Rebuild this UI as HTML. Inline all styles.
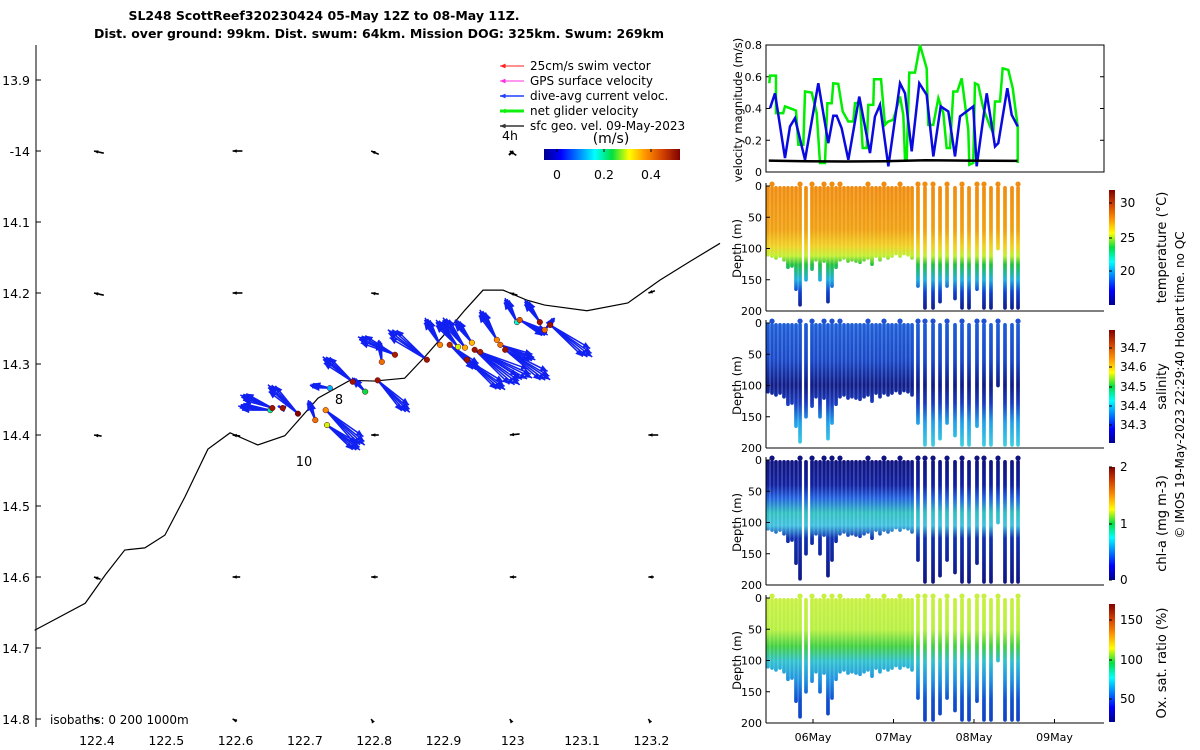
<!DOCTYPE html>
<html><head><meta charset="utf-8"><style>
body{margin:0;background:#fff;}
svg{display:block;font-family:"DejaVu Sans","Liberation Sans",sans-serif;}
</style></head><body>
<svg id="s" width="1200" height="750" viewBox="0 0 1200 750" xmlns="http://www.w3.org/2000/svg">
<defs>
<linearGradient id="jet" x1="0" y1="0" x2="1" y2="0">
<stop offset="0" stop-color="#00008f"/><stop offset="0.125" stop-color="#0000ff"/><stop offset="0.375" stop-color="#00ffff"/><stop offset="0.5" stop-color="#00e040"/><stop offset="0.625" stop-color="#ffff00"/><stop offset="0.75" stop-color="#ff9000"/><stop offset="0.875" stop-color="#d04000"/><stop offset="1" stop-color="#800000"/></linearGradient>
<linearGradient id="jetv" x1="0" y1="1" x2="0" y2="0">
<stop offset="0" stop-color="#00008f"/><stop offset="0.125" stop-color="#0000ff"/><stop offset="0.375" stop-color="#00ffff"/><stop offset="0.5" stop-color="#00e040"/><stop offset="0.625" stop-color="#ffff00"/><stop offset="0.75" stop-color="#ff9000"/><stop offset="0.875" stop-color="#d04000"/><stop offset="1" stop-color="#800000"/></linearGradient>
<linearGradient id="gT" gradientUnits="userSpaceOnUse" x1="0" y1="186" x2="0" y2="311">
<stop offset="0" stop-color="#f08c10"/><stop offset="0.35" stop-color="#f0a010"/><stop offset="0.48" stop-color="#f0d020"/><stop offset="0.56" stop-color="#c0f030"/><stop offset="0.63" stop-color="#20c040"/><stop offset="0.75" stop-color="#20b0e0"/><stop offset="0.85" stop-color="#1040d0"/><stop offset="1" stop-color="#101880"/></linearGradient>
<linearGradient id="gS" gradientUnits="userSpaceOnUse" x1="0" y1="323" x2="0" y2="447">
<stop offset="0" stop-color="#1e5fd8"/><stop offset="0.3" stop-color="#1848c8"/><stop offset="0.5" stop-color="#101c88"/><stop offset="0.65" stop-color="#1a3cc0"/><stop offset="0.8" stop-color="#20a0e8"/><stop offset="1" stop-color="#40d0e0"/></linearGradient>
<linearGradient id="gC" gradientUnits="userSpaceOnUse" x1="0" y1="460" x2="0" y2="586">
<stop offset="0" stop-color="#101480"/><stop offset="0.2" stop-color="#1020a0"/><stop offset="0.3" stop-color="#2060e0"/><stop offset="0.42" stop-color="#30c0c0"/><stop offset="0.52" stop-color="#40c0e0"/><stop offset="0.62" stop-color="#1030b0"/><stop offset="1" stop-color="#101480"/></linearGradient>
<linearGradient id="gO" gradientUnits="userSpaceOnUse" x1="0" y1="598" x2="0" y2="725">
<stop offset="0" stop-color="#c8f040"/><stop offset="0.25" stop-color="#b8f040"/><stop offset="0.38" stop-color="#40d040"/><stop offset="0.5" stop-color="#30c0d0"/><stop offset="0.65" stop-color="#2090e0"/><stop offset="0.8" stop-color="#1050d0"/><stop offset="1" stop-color="#1040c0"/></linearGradient>
</defs>
<g id="root"></g>
</svg>
<script>
// ---------- data ----------
const coastLon=[122.310,122.383,122.412,122.440,122.469,122.498,122.527,122.560,122.592,122.632,122.671,122.719,122.765,122.801,122.844,122.873,122.899,122.931,122.957,122.986,123.020,123.046,123.107,123.166,123.212,123.255,123.299];
const coastLat=[14.675,14.637,14.597,14.562,14.559,14.541,14.487,14.420,14.397,14.414,14.401,14.348,14.323,14.324,14.320,14.290,14.261,14.224,14.196,14.196,14.210,14.217,14.225,14.214,14.182,14.156,14.130];
const diveLon=[122.650,122.653,122.690,122.715,122.730,122.732,122.736,122.769,122.787,122.805,122.811,122.830,122.876,122.921,122.931,122.934,122.941,122.945,122.953,122.977,122.982,122.989,123.006,123.010,123.039,123.054,123.046,122.668,122.895,122.909];
const diveLat=[14.365,14.362,14.370,14.379,14.365,14.386,14.334,14.325,14.339,14.323,14.297,14.287,14.294,14.276,14.277,14.294,14.270,14.280,14.283,14.266,14.273,14.280,14.241,14.238,14.241,14.245,14.252,14.362,14.273,14.273];
const curU=[-0.32,-0.32,-0.30,-0.07,0.39,0.33,-0.20,-0.30,-0.13,0.32,-0.03,-0.37,-0.39,-0.22,-0.22,0.38,-0.17,0.45,0.52,-0.17,0.35,0.45,-0.12,0.28,-0.15,0.42,0.10,-0.05,-0.15,0.30];
const curV=[0.04,0.13,0.29,0.20,-0.35,-0.25,0.03,0.25,0.14,-0.32,0.22,0.18,0.30,0.27,0.30,-0.30,0.23,-0.35,-0.26,0.30,-0.15,-0.30,0.24,-0.15,0.22,-0.32,0.12,0.02,0.27,-0.25];
const surfSpeed=[0.22,0.48,0.50,0.40,0.38,0.30,0.15,0.48,0.25,0.48,0.40,0.47,0.48,0.30,0.36,0.48,0.35,0.48,0.47,0.38,0.40,0.48,0.20,0.42,0.48,0.48,0.40,0.48,0.38,0.46];
const geoLon=[122.4,122.6,122.8,123.0,123.2];
const geoLat=[14.0,14.2,14.4,14.6,14.8];
const geoU=[[0.08,0.08,0.06,0.05,0.05],[0.08,0.08,0.06,0.06,0.05],[0.06,0.06,0.06,0.08,0.08],[0.05,0.06,0.05,0.05,0.04],[0.03,0.03,0.01,0.01,0.01]];
const geoV=[[-0.02,0,-0.03,-0.04,0],[-0.02,0,-0.01,-0.02,0.02],[-0.01,-0.01,0,0.01,0],[-0.02,0,0,0,0],[-0.02,-0.02,-0.03,-0.03,-0.03]];
const lonTicks=[122.4,122.5,122.6,122.7,122.8,122.9,123,123.1,123.2];
const lonLabels=["122.4","122.5","122.6","122.7","122.8","122.9","123","123.1","123.2"];
const latTicks=[13.9,14.0,14.1,14.2,14.3,14.4,14.5,14.6,14.7,14.8];
const latLabels=["13.9","-14","14.1","14.2","14.3","14.4","14.5","14.6","14.7","14.8"];

const blueT=[5.466,5.528,5.652,5.714,5.776,5.901,6.066,6.19,6.252,6.294,6.356,6.439,6.575,6.708,6.77,6.832,6.936,7.081,7.143,7.226,7.32,7.412,7.495,7.586,7.681,7.764,7.826,7.991,8.033,8.158,8.261,8.302,8.414,8.468,8.543];
const blueV=[0.402,0.496,0.088,0.287,0.339,0.077,0.559,0.182,0.354,0.354,0.276,0.077,0.475,0.119,0.35,0.423,0.036,0.559,0.496,0.13,0.559,0.486,0.098,0.413,0.381,0.098,0.35,0.413,0.036,0.496,0.161,0.182,0.528,0.36,0.287];
const greenT=[5.457,5.466,5.54,5.54,5.63,5.652,5.714,5.789,5.818,5.88,5.901,5.984,6.046,6.087,6.149,6.178,6.232,6.252,6.314,6.369,6.439,6.501,6.522,6.584,6.617,6.667,6.687,6.749,6.758,6.845,6.894,6.935,6.997,7.081,7.122,7.143,7.164,7.196,7.267,7.329,7.412,7.432,7.494,7.557,7.619,7.66,7.702,7.743,7.793,7.847,7.929,7.942,7.991,8.012,8.053,8.115,8.199,8.239,8.261,8.323,8.356,8.426,8.481,8.543,8.543];
const greenV=[0.559,0.607,0.607,0.371,0.371,0.413,0.402,0.387,0.172,0.172,0.507,0.5,0.371,0.057,0.057,0.433,0.433,0.559,0.555,0.381,0.318,0.318,0.433,0.438,0.151,0.151,0.423,0.423,0.584,0.584,0.297,0.318,0.329,0.475,0.36,0.077,0.077,0.626,0.626,0.8,0.653,0.297,0.297,0.465,0.371,0.151,0.151,0.507,0.507,0.59,0.266,0.046,0.057,0.559,0.549,0.402,0.287,0.245,0.444,0.444,0.653,0.643,0.528,0.287,0.057];
const blackT=[5.45,5.9,6.4,6.9,7.4,7.9,8.54];
const blackV=[0.072,0.068,0.066,0.068,0.074,0.072,0.07];

const profT=[5.441,5.491,5.540,5.590,5.640,5.689,5.739,5.789,5.839,5.913,5.988,6.037,6.087,6.137,6.186,6.236,6.286,6.335,6.385,6.435,6.484,6.534,6.584,6.634,6.683,6.733,6.783,6.832,6.882,6.932,6.981,7.031,7.081,7.130,7.180,7.230,7.304,7.391,7.491,7.578,7.665,7.764,7.851,7.938,8.037,8.124,8.211,8.298,8.385,8.472,8.547];
const profD=[110,112,115,112,118,130,128,165,190,150,133,118,150,120,185,160,130,118,115,120,118,120,122,118,115,125,112,118,112,115,112,108,112,108,110,115,160,195,195,185,160,180,195,195,165,195,195,100,195,195,195];
const surfDot=[0,1,0,0,0,0,0,0,1,0,1,0,0,1,0,1,0,1,0,0,0,0,0,0,1,0,0,0,1,0,0,0,1,0,0,0,1,1,1,0,1,0,1,0,1,1,0,1,0,0,1];
const dayTicks=[6,7,8,9];
const dayLabels=["06May","07May","08May","09May"];

// ---------- helpers ----------
const NS="http://www.w3.org/2000/svg";
const root=document.getElementById('root');
function el(tag,attrs,parent,text){const e=document.createElementNS(NS,tag);for(const k in attrs)e.setAttribute(k,attrs[k]);if(text!==undefined)e.textContent=text;(parent||root).appendChild(e);return e;}
function grp(name){const g=document.createElementNS(NS,'g');


root.appendChild(g);return g;}
const xLon=lon=>97+(lon-122.4)*693;
const yLat=lat=>80+(lat-13.9)*710;
const xT=t=>813+(t-6)*80.5;
function jet(v){const st=[[0,0,0,143],[.125,0,0,255],[.375,0,255,255],[.5,0,224,64],[.625,255,255,0],[.75,255,144,0],[.875,208,64,0],[1,128,0,0]];v=Math.max(0,Math.min(1,v));for(let i=1;i<st.length;i++){if(v<=st[i][0]){const a=st[i-1],b=st[i],f=(v-a[0])/(b[0]-a[0]);return `rgb(${Math.round(a[1]+f*(b[1]-a[1]))},${Math.round(a[2]+f*(b[2]-a[2]))},${Math.round(a[3]+f*(b[3]-a[3]))})`;}}return 'rgb(128,0,0)';}
function arrow(g,x1,y1,x2,y2,col,w,head){el('line',{x1,y1,x2,y2,stroke:col,'stroke-width':w},g);const a=Math.atan2(y2-y1,x2-x1);const h=head;
el('polygon',{points:`${x2},${y2} ${x2-h*Math.cos(a-0.4)},${y2-h*Math.sin(a-0.4)} ${x2-h*Math.cos(a+0.4)},${y2-h*Math.sin(a+0.4)}`,fill:col},g);}

// ---------- title ----------
const tg=grp('title');
el('text',{x:324,y:20,'text-anchor':'middle','font-size':12.5,'font-weight':'bold'},tg,'SL248 ScottReef320230424 05-May 12Z to 08-May 11Z.');
el('text',{x:379,y:38,'text-anchor':'middle','font-size':12.5,'font-weight':'bold'},tg,'Dist. over ground: 99km. Dist. swum: 64km. Mission DOG: 325km. Swum: 269km');

// ---------- map ----------
const mg=grp('map-axes');
el('line',{x1:36,y1:45,x2:36,y2:727,stroke:'#000','stroke-width':1},mg);
latTicks.forEach((v,i)=>{const y=yLat(v);el('line',{x1:36,y1:y,x2:41,y2:y,stroke:'#000'},mg);el('text',{x:30,y:y+5,'text-anchor':'end','font-size':12.5},mg,latLabels[i]);});
lonTicks.forEach((v,i)=>{const x=xLon(v);el('text',{x:x,y:745,'text-anchor':'middle','font-size':12.5},mg,lonLabels[i]);});
const cg=grp('isobath-line');
el('polyline',{points:coastLon.map((v,i)=>xLon(v)+','+yLat(coastLat[i])).join(' '),fill:'none',stroke:'#000','stroke-width':1.2},cg);
const gg=grp('surface-geostrophic-arrows');
geoLat.forEach((la,i)=>geoLon.forEach((lo,j)=>{const x=xLon(lo)-3,y=yLat(la);arrow(gg,x+geoU[i][j]*110+1,y-geoV[i][j]*110,x,y,'#000',1.6,4.5);}));
const ag=grp('dive-current-arrows');
const fan=[-0.12,-0.05,0,0.06,0.12];
const fanS=[0.88,0.95,1.0,0.93,0.86];
diveLon.forEach((lo,i)=>{const x=xLon(lo),y=yLat(diveLat[i]);
 fan.forEach((da,k)=>{const u=curU[i],v=-curV[i];const c=Math.cos(da),s=Math.sin(da);const ux=(u*c-v*s)*100*fanS[k],vy=(u*s+v*c)*100*fanS[k];
  arrow(ag,x,y,x+ux,y+vy,'#1020f0',1.5,8);});});
const dg=grp('surface-velocity-dots');
diveLon.forEach((lo,i)=>{el('circle',{cx:xLon(lo),cy:yLat(diveLat[i]),r:2.8,fill:jet(surfSpeed[i]/0.5),stroke:'#600','stroke-width':0.5},dg);});
el('text',{x:339,y:404,'text-anchor':'middle','font-size':13},mg,'8');
el('text',{x:304,y:466,'text-anchor':'middle','font-size':13},mg,'10');
el('text',{x:50,y:724,'font-size':12},mg,'isobaths: 0   200  1000m');
// legend
const lg=grp('map-legend');
const legT=["25cm/s swim vector","GPS surface velocity","dive-avg current veloc.","net glider velocity","sfc geo. vel. 09-May-2023"];
const legC=["#ff2020","#ff30e0","#2040ff","#10f010","#333"];
const legW=[1,1,1.5,3,1.5];
legT.forEach((t,i)=>{const y=66+i*15;arrow(lg,524,y,500,y,legC[i],legW[i],6);el('text',{x:530,y:y+4,'font-size':12},lg,t);});
el('text',{x:510,y:140,'text-anchor':'middle','font-size':12.5},lg,'4h');
el('line',{x1:513,y1:151,x2:509,y2:155,stroke:'#000','stroke-width':2},lg);
el('text',{x:611,y:143,'text-anchor':'middle','font-size':14},lg,'(m/s)');
el('rect',{x:544,y:149,width:136,height:11,fill:'url(#jet)'},lg);
[0,0.2,0.4].forEach(v=>{const x=557+v*235;el('line',{x1:x,y1:149,x2:x,y2:152,stroke:'#000'},lg);el('text',{x:x,y:179,'text-anchor':'middle','font-size':12.5},lg,String(v));});

// ---------- velocity panel ----------
const vg=grp('velocity-panel');
const yV=v=>172-v/0.8*127;
el('rect',{x:766,y:45,width:338,height:127,fill:'none',stroke:'#000'},vg);
[0,0.2,0.4,0.6,0.8].forEach(v=>{const y=yV(v);el('line',{x1:766,y1:y,x2:770,y2:y,stroke:'#000'},vg);el('line',{x1:1100,y1:y,x2:1104,y2:y,stroke:'#000'},vg);el('text',{x:762,y:y+4,'text-anchor':'end','font-size':11},vg,String(v));});
el('text',{x:0,y:0,transform:'translate(742,110) rotate(-90)','text-anchor':'middle','font-size':11.5},vg,'velocity magnitude (m/s)');
el('polyline',{points:greenT.map((t,i)=>xT(t)+','+yV(greenV[i])).join(' '),fill:'none',stroke:'#00ee00','stroke-width':2.5},vg);
el('polyline',{points:blueT.map((t,i)=>xT(t)+','+yV(blueV[i])).join(' '),fill:'none',stroke:'#0a0ae0','stroke-width':2.5},vg);
el('polyline',{points:blackT.map((t,i)=>xT(t)+','+yV(blackV[i])).join(' '),fill:'none',stroke:'#000','stroke-width':2.5},vg);

// ---------- profile panels ----------
const panels=[
 {name:'temperature',top:186,grad:'gT',cb:[190,305],label:'temperature (°C)',ticks:[[30,203],[25,238],[20,271]],dot:'#f08c10'},
 {name:'salinity',top:323,grad:'gS',cb:[330,443],label:'salinity',ticks:[[34.7,348],[34.6,367],[34.5,387],[34.4,406],[34.3,425]],dot:'#1e50d0'},
 {name:'chl-a',top:460,grad:'gC',cb:[467,580],label:'chl-a (mg m-3)',ticks:[[2,467],[1,524],[0,580]],dot:'#101480'},
 {name:'oxygen',top:598,grad:'gO',cb:[604,722],label:'Ox. sat. ratio (%)',ticks:[[150,620],[100,660],[50,699]],dot:'#c8f040'}];
panels.forEach(p=>{
 const g=grp(p.name+'-panel');
 const yD=d=>p.top+d*0.625;
 profT.forEach((t,i)=>{const x=xT(t);el('line',{x1:x,y1:yD(3),x2:x,y2:yD(profD[i]),stroke:'url(#'+p.grad+')','stroke-width':3.7,'stroke-linecap':'round'},g);
  if(surfDot[i])el('circle',{cx:x,cy:yD(-3),r:2.6,fill:p.dot},g);});
 el('line',{x1:766,y1:p.top-3,x2:766,y2:yD(200),stroke:'#000'},g);
 el('line',{x1:766,y1:yD(200),x2:1104,y2:yD(200),stroke:'#000'},g);
 [0,50,100,150,200].forEach(d=>{const y=yD(d);el('line',{x1:766,y1:y,x2:770,y2:y,stroke:'#000'},g);el('text',{x:762,y:y+4,'text-anchor':'end','font-size':11},g,String(d));});
 el('text',{x:0,y:0,transform:`translate(741,${yD(100)}) rotate(-90)`,'text-anchor':'middle','font-size':11.5},g,'Depth (m)');
 el('rect',{x:1109,y:p.cb[0],width:6,height:p.cb[1]-p.cb[0],fill:'url(#jetv)'},g);
 p.ticks.forEach(tk=>{el('line',{x1:1109,y1:tk[1],x2:1112,y2:tk[1],stroke:'#000'},g);el('text',{x:1120,y:tk[1]+4,'font-size':12},g,String(tk[0]));});
 el('text',{x:0,y:0,transform:`translate(1166,${(p.cb[0]+p.cb[1])/2}) rotate(-90)`,'text-anchor':'middle','font-size':13},g,p.label);
});
// time axis
const xg=grp('time-axis');
dayTicks.forEach((d,i)=>{const x=xT(d);el('line',{x1:x,y1:723,x2:x,y2:719,stroke:'#000'},xg);el('text',{x:x,y:741,'text-anchor':'middle','font-size':11},xg,dayLabels[i]);});
const fg=grp('footer-credit');
el('text',{x:0,y:0,transform:'translate(1184,385) rotate(-90)','text-anchor':'middle','font-size':12},fg,'© IMOS 19-May-2023 22:29:40 Hobart time. no QC');
</script>
</body></html>
